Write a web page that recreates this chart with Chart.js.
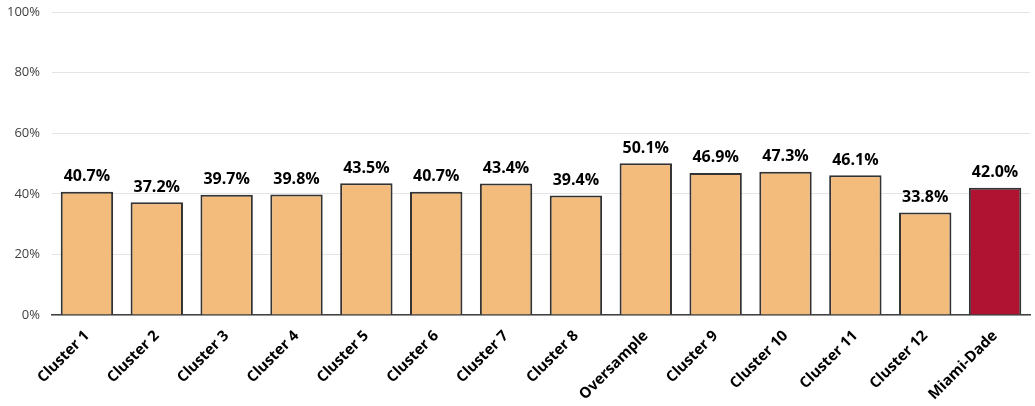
<!DOCTYPE html>
<html>
<head>
<meta charset="utf-8">
<script src="https://cdn.jsdelivr.net/npm/chart.js@4"></script>
<style>
  html, body { margin: 0; padding: 0; background: #fff; }
  #wrap { width: 1035px; height: 406px; }
</style>
</head>
<body>
<div id="wrap"><canvas id="myChart" width="1035" height="406"></canvas></div>
<script>
// data
const categories = ['Cluster 1', 'Cluster 2', 'Cluster 3', 'Cluster 4', 'Cluster 5', 'Cluster 6', 'Cluster 7',
  'Cluster 8', 'Oversample', 'Cluster 9', 'Cluster 10', 'Cluster 11', 'Cluster 12', 'Miami-Dade'];
const shares = [40.7, 37.2, 39.7, 39.8, 43.5, 40.7, 43.4, 39.4, 50.1, 46.9, 47.3, 46.1, 33.8, 42.0];
const yTicks = [0, 20, 40, 60, 80, 100];

const barColors = categories.map(c => c === 'Miami-Dade' ? '#B01232' : '#F4BC7C');

// value labels above bars
const valueLabels = {
  id: 'valueLabels',
  afterDatasetsDraw(chart) {
    const ctx = chart.ctx;
    const meta = chart.getDatasetMeta(0);
    ctx.save();
    ctx.font = 'bold 16px "Open Sans", sans-serif';
    ctx.fillStyle = '#000';
    ctx.textAlign = 'center';
    ctx.textBaseline = 'bottom';
    meta.data.forEach((bar, i) => {
      ctx.fillText(shares[i].toFixed(1) + '%', bar.x, bar.y - 7);
    });
    ctx.restore();
  }
};

const ctx = document.getElementById('myChart').getContext('2d');
const myChart = new Chart(ctx, {
  type: 'bar',
  data: {
    labels: categories,
    datasets: [{
      data: shares,
      backgroundColor: barColors,
      borderColor: '#333333',
      borderWidth: 2,
      categoryPercentage: 1,
      barPercentage: 0.75
    }]
  },
  options: {
    responsive: false,
    animation: false,
    layout: { padding: { top: 12, right: 5, left: 0, bottom: 0 } },
    plugins: { legend: { display: false }, tooltip: { enabled: false } },
    scales: {
      x: {
        grid: { display: false, drawTicks: false },
        border: { color: '#404040', width: 1.5 },
        ticks: {
          color: '#000',
          font: { family: '"Open Sans", sans-serif', size: 15, weight: 'bold' },
          minRotation: 45,
          maxRotation: 45,
          padding: 12
        },
        afterFit(scale) { scale.height = 91; }
      },
      y: {
        min: 0,
        max: 100,
        afterBuildTicks(scale) { scale.ticks = yTicks.map(v => ({ value: v })); },
        grid: { color: '#e4e4e4', drawTicks: false },
        border: { display: false },
        ticks: {
          color: '#404040',
          font: { family: '"Open Sans", sans-serif', size: 13 },
          padding: 12,
          callback: v => v + '%'
        },
        afterFit(scale) { scale.width = 52; scale.paddingTop = 0; scale.paddingBottom = 0; }
      }
    }
  },
  plugins: [valueLabels]
});
</script>
</body>
</html>
